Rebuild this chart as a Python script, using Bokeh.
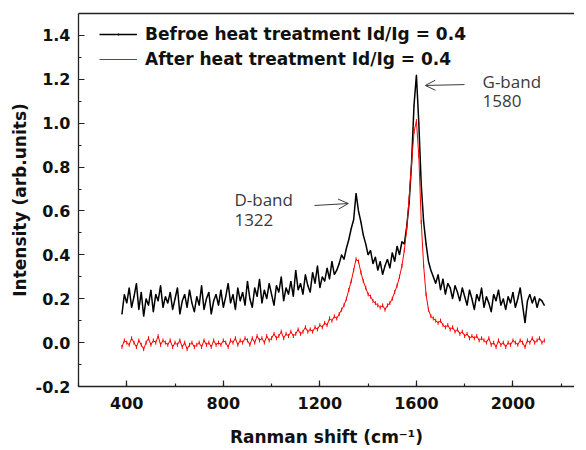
from bokeh.plotting import figure
from bokeh.models import (SingleIntervalTicker, PrintfTickFormatter, Legend, LegendItem,
                          Arrow, OpenHead, LinearAxis, FixedTicker, Range1d, ColumnDataSource)
from bokeh.core.properties import value
from bokeh.embed import file_html
from bokeh.resources import INLINE

raman_shift = [
    380, 390, 400, 410, 420, 430, 440, 450, 460, 470,
    480, 490, 500, 510, 520, 530, 540, 550, 560, 570,
    580, 590, 600, 610, 620, 630, 640, 650, 660, 670,
    680, 690, 700, 710, 720, 730, 740, 750, 760, 770,
    780, 790, 800, 810, 820, 830, 840, 850, 860, 870,
    880, 890, 900, 910, 920, 930, 940, 950, 960, 970,
    980, 990, 1000, 1010, 1020, 1030, 1040, 1050, 1060, 1070,
    1080, 1090, 1100, 1110, 1120, 1130, 1140, 1150, 1160, 1170,
    1180, 1190, 1200, 1210, 1220, 1230, 1240, 1250, 1260, 1270,
    1280, 1290, 1300, 1310, 1320, 1330, 1340, 1350, 1360, 1370,
    1380, 1390, 1400, 1410, 1420, 1430, 1440, 1450, 1460, 1470,
    1480, 1490, 1500, 1510, 1520, 1530, 1540, 1550, 1560, 1570,
    1580, 1590, 1600, 1610, 1620, 1630, 1640, 1650, 1660, 1670,
    1680, 1690, 1700, 1710, 1720, 1730, 1740, 1750, 1760, 1770,
    1780, 1790, 1800, 1810, 1820, 1830, 1840, 1850, 1860, 1870,
    1880, 1890, 1900, 1910, 1920, 1930, 1940, 1950, 1960, 1970,
    1980, 1990, 2000, 2010, 2020, 2030, 2040, 2050, 2060, 2070,
    2080, 2090, 2100, 2110, 2120, 2130,
]

before_heat = [
    0.13, 0.22, 0.18, 0.25, 0.16, 0.21, 0.27, 0.15, 0.23, 0.12,
    0.20, 0.17, 0.24, 0.14, 0.22, 0.19, 0.26, 0.16, 0.21, 0.18,
    0.23, 0.15, 0.20, 0.25, 0.13, 0.19, 0.22, 0.16, 0.24, 0.18,
    0.14, 0.21, 0.17, 0.26, 0.15, 0.20, 0.23, 0.13, 0.19, 0.22,
    0.17, 0.24, 0.16, 0.21, 0.27, 0.18, 0.22, 0.15, 0.25, 0.19,
    0.23, 0.17, 0.28, 0.20, 0.16, 0.25, 0.21, 0.29, 0.18, 0.24,
    0.20, 0.27, 0.22, 0.17, 0.26, 0.23, 0.30, 0.19, 0.25, 0.22,
    0.28, 0.21, 0.33, 0.24, 0.27, 0.22, 0.31, 0.26, 0.23, 0.32,
    0.27, 0.35, 0.25, 0.30, 0.28, 0.34, 0.29, 0.37, 0.31, 0.33,
    0.36, 0.40, 0.38, 0.43, 0.47, 0.52, 0.56, 0.68, 0.60, 0.55,
    0.49, 0.45, 0.40, 0.42, 0.36, 0.39, 0.33, 0.37, 0.31, 0.35,
    0.38, 0.34, 0.41, 0.37, 0.44, 0.40, 0.46, 0.45, 0.53, 0.64,
    0.82, 1.08, 1.22, 1.00, 0.72, 0.55, 0.45, 0.37, 0.33, 0.30,
    0.27, 0.31, 0.24, 0.29, 0.22, 0.27, 0.25, 0.20, 0.26, 0.23,
    0.19, 0.25, 0.21, 0.17, 0.24, 0.20, 0.15, 0.22, 0.19, 0.25,
    0.16, 0.21, 0.18, 0.14, 0.22, 0.19, 0.24, 0.17, 0.20, 0.15,
    0.21, 0.18, 0.23, 0.16, 0.20, 0.25, 0.17, 0.09, 0.19, 0.22,
    0.18, 0.21, 0.16, 0.20, 0.19, 0.17,
]

after_heat = [
    -0.02, 0.01, 0.00, -0.01, 0.02, 0.00, -0.02, 0.01, -0.01, -0.03,
    0.00, 0.02, -0.01, 0.01, 0.00, 0.03, -0.01, 0.01, 0.00, -0.01,
    0.01, -0.02, 0.00, -0.01, 0.01, -0.02, 0.00, -0.03, -0.01, 0.00,
    -0.02, -0.01, 0.00, -0.02, 0.01, -0.01, 0.00, -0.02, 0.01, -0.01,
    0.00, -0.01, 0.01, 0.00, -0.02, 0.01, 0.00, 0.02, -0.01, 0.01,
    0.00, 0.02, 0.01, -0.01, 0.02, 0.00, 0.03, 0.01, 0.02, 0.00,
    0.03, 0.01, 0.02, 0.04, 0.02, 0.03, 0.05, 0.02, 0.04, 0.03,
    0.05, 0.03, 0.04, 0.06, 0.04, 0.05, 0.07, 0.05, 0.06, 0.05,
    0.07, 0.06, 0.08, 0.07, 0.09, 0.08, 0.11, 0.10, 0.12, 0.11,
    0.13, 0.15, 0.17, 0.20, 0.24, 0.28, 0.33, 0.38, 0.37, 0.32,
    0.28, 0.25, 0.22, 0.21, 0.19, 0.18, 0.17, 0.16, 0.17, 0.15,
    0.17, 0.18, 0.20, 0.23, 0.26, 0.30, 0.35, 0.42, 0.52, 0.66,
    0.82, 0.96, 1.01, 0.85, 0.55, 0.35, 0.22, 0.15, 0.12, 0.11,
    0.10, 0.09, 0.10, 0.08, 0.07, 0.08, 0.06, 0.07, 0.05, 0.06,
    0.04, 0.05, 0.03, 0.04, 0.02, 0.03, 0.02, 0.03, 0.01, 0.02,
    0.01, 0.00, 0.02, -0.01, 0.00, -0.02, 0.01, -0.01, 0.00, -0.02,
    0.00, -0.01, 0.01, 0.00, -0.01, 0.01, 0.00, -0.02, 0.01, 0.00,
    0.02, 0.00, 0.01, 0.02, 0.00, 0.01,
]

series_labels = ["Befroe heat treatment Id/Ig = 0.4", "After heat treatment Id/Ig = 0.4"]

note_x = [1874, 1874, 846, 846]
note_y = [1.19, 1.099, 0.652, 0.557]
note_text = ["G-band", "1580", "D-band", "1322"]

arrow_start_x = [1799, 1178]
arrow_start_y = [1.176, 0.625]
arrow_end_x = [1637, 1318]
arrow_end_y = [1.172, 0.634]

x_ticks_interval = 400
y_ticks_interval = 0.2

FONT = "DejaVu Sans"

p = figure(frame_width=496, frame_height=373,
           x_range=Range1d(200, 2255), y_range=Range1d(-0.2, 1.5),
           output_backend="svg", toolbar_location=None,
           min_border_left=78, min_border_top=13, min_border_bottom=55, min_border_right=0)
p.background_fill_color = "white"
p.border_fill_color = "white"
p.outline_line_color = None
p.xgrid.visible = False
p.ygrid.visible = False

src = ColumnDataSource(dict(x=raman_shift, b=before_heat, a=after_heat))
lb = p.line("x", "b", source=src, line_color="black", line_width=1.5)
sb = p.scatter("x", "b", source=src, marker="dot", size=4, line_color="black", fill_color="black")
la = p.line("x", "a", source=src, line_color="#ff0000", line_width=1)
sa = p.scatter("x", "a", source=src, marker="dash", angle=1.5708, size=4, line_color="#ff0000")

for ax in (p.xaxis[0], p.yaxis[0]):
    ax.axis_line_color = "#222222"
    ax.axis_line_width = 1.3
    ax.major_tick_line_color = "#222222"
    ax.minor_tick_line_color = "#222222"
    ax.major_tick_line_width = 1.2
    ax.minor_tick_line_width = 1.2
    ax.major_tick_in = 6
    ax.major_tick_out = 0
    ax.minor_tick_in = 3
    ax.minor_tick_out = 0
    ax.major_label_text_font = FONT
    ax.major_label_text_font_style = "bold"
    ax.major_label_text_font_size = "16px"
    ax.major_label_text_color = "#111111"
    ax.axis_label_text_font = FONT
    ax.axis_label_text_font_style = "bold"
    ax.axis_label_text_font_size = "17px"
    ax.axis_label_text_color = "#111111"

p.xaxis.major_label_standoff = 10
p.yaxis.major_label_standoff = 8
p.xaxis.ticker = SingleIntervalTicker(interval=x_ticks_interval, num_minor_ticks=2)
p.yaxis.ticker = SingleIntervalTicker(interval=y_ticks_interval, num_minor_ticks=2)
p.yaxis.formatter = PrintfTickFormatter(format="%.1f")
p.xaxis.axis_label = "Ranman shift (cm\u207b\u00b9)"
p.yaxis.axis_label = "Intensity (arb.units)"
p.xaxis.axis_label_standoff = 15
p.yaxis.axis_label_standoff = 3

top_axis = LinearAxis(ticker=FixedTicker(ticks=[]), major_label_text_font_size="0px",
                      axis_line_color="#222222", axis_line_width=1.3,
                      major_tick_line_color=None, minor_tick_line_color=None)
p.add_layout(top_axis, "above")

p.text(x=note_x, y=note_y, text=note_text, text_font=value("Open Sans"),
       text_font_size="17px", text_color="#3a3a3a", text_baseline="alphabetic", text_align="left")

for i in range(len(arrow_start_x)):
    p.add_layout(Arrow(end=OpenHead(size=10, line_color="#3a3a3a", line_width=1),
                       x_start=arrow_start_x[i], y_start=arrow_start_y[i],
                       x_end=arrow_end_x[i], y_end=arrow_end_y[i],
                       line_color="#3a3a3a", line_width=1))

legend = Legend(items=[LegendItem(label=series_labels[0], renderers=[lb, sb]),
                       LegendItem(label=series_labels[1], renderers=[la, sa])],
                location=(21, 317), margin=0, padding=10, spacing=5,
                glyph_width=38, glyph_height=20, label_height=20, label_standoff=8,
                label_text_font=FONT, label_text_font_style="bold",
                label_text_font_size="17px", label_text_color="#111111",
                border_line_color=None, background_fill_alpha=0)
p.add_layout(legend, "center")

open("out.html", "w").write(file_html(p, INLINE))
